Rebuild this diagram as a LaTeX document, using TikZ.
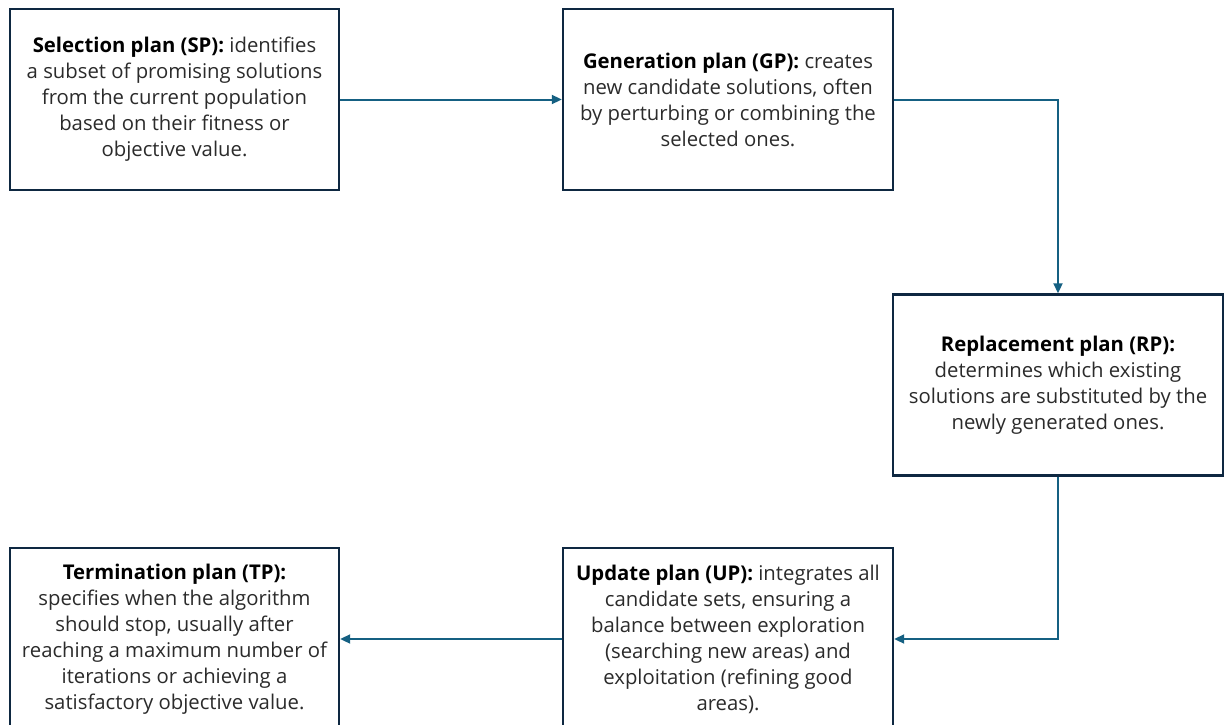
\documentclass[tikz,border=0pt]{standalone}
\usepackage{fontspec}
\setmainfont{Open Sans}
\usetikzlibrary{arrows.meta}
\definecolor{boxline}{HTML}{0E2841}
\definecolor{flow}{HTML}{156082}
\definecolor{bodytext}{HTML}{2B2B2B}
\tikzset{
  plan/.style={draw=boxline, line width=2.4pt, fill=white, inner sep=0pt,
    minimum width=#1, minimum height=181pt, align=center,
    font=\fontsize{20.3}{26}\selectfont, text=bodytext},
  plan/.default=330pt,
  flowline/.style={draw=flow, line width=2pt,
    -{Triangle[length=10pt,width=9pt]}},
}
\newcommand{\head}[1]{\textbf{\textcolor{black}{#1}}}
\begin{document}
\begin{tikzpicture}[x=1pt,y=-1pt]
\useasboundingbox (0,0) rectangle (1224,725);
\clip (0,0) rectangle (1224,725);
\fill[white] (0,0) rectangle (1224,725);

\node[plan=329pt] (sp) at (174.5,99.5) {\head{Selection plan (SP):} identifies\\
  a subset of promising solutions\\ from the current population\\
  based on their fitness or\\ objective value.};
\node[plan] (gp) at (728,99.5) {\head{Generation plan (GP):} creates\\
  new candidate solutions, often\\ by perturbing or combining the\\ selected ones.};
\node[plan] (rp) at (1058,385) {\head{Replacement plan (RP):}\\
  determines which existing\\ solutions are substituted by the\\ newly generated ones.};
\node[plan, minimum height=182pt] (up) at (728,639) {\head{Update plan (UP):} integrates all\\
  candidate sets, ensuring a\\ balance between exploration\\ (searching new areas) and\\
  exploitation (refining good\\ areas).};
\node[plan=329pt, minimum height=182pt] (tp) at (174.5,639) {\head{Termination plan (TP):}\\
  specifies when the algorithm\\ should stop, usually after\\ reaching a maximum number of\\
  iterations or achieving a\\ satisfactory objective value.};

\draw[flowline] (sp.east) -- (gp.west);
\draw[flowline] (gp.east) -| (rp.north);
\draw[flowline] (rp.south) |- (up.east);
\draw[flowline] (up.west) -- (tp.east);
\end{tikzpicture}
\end{document}
